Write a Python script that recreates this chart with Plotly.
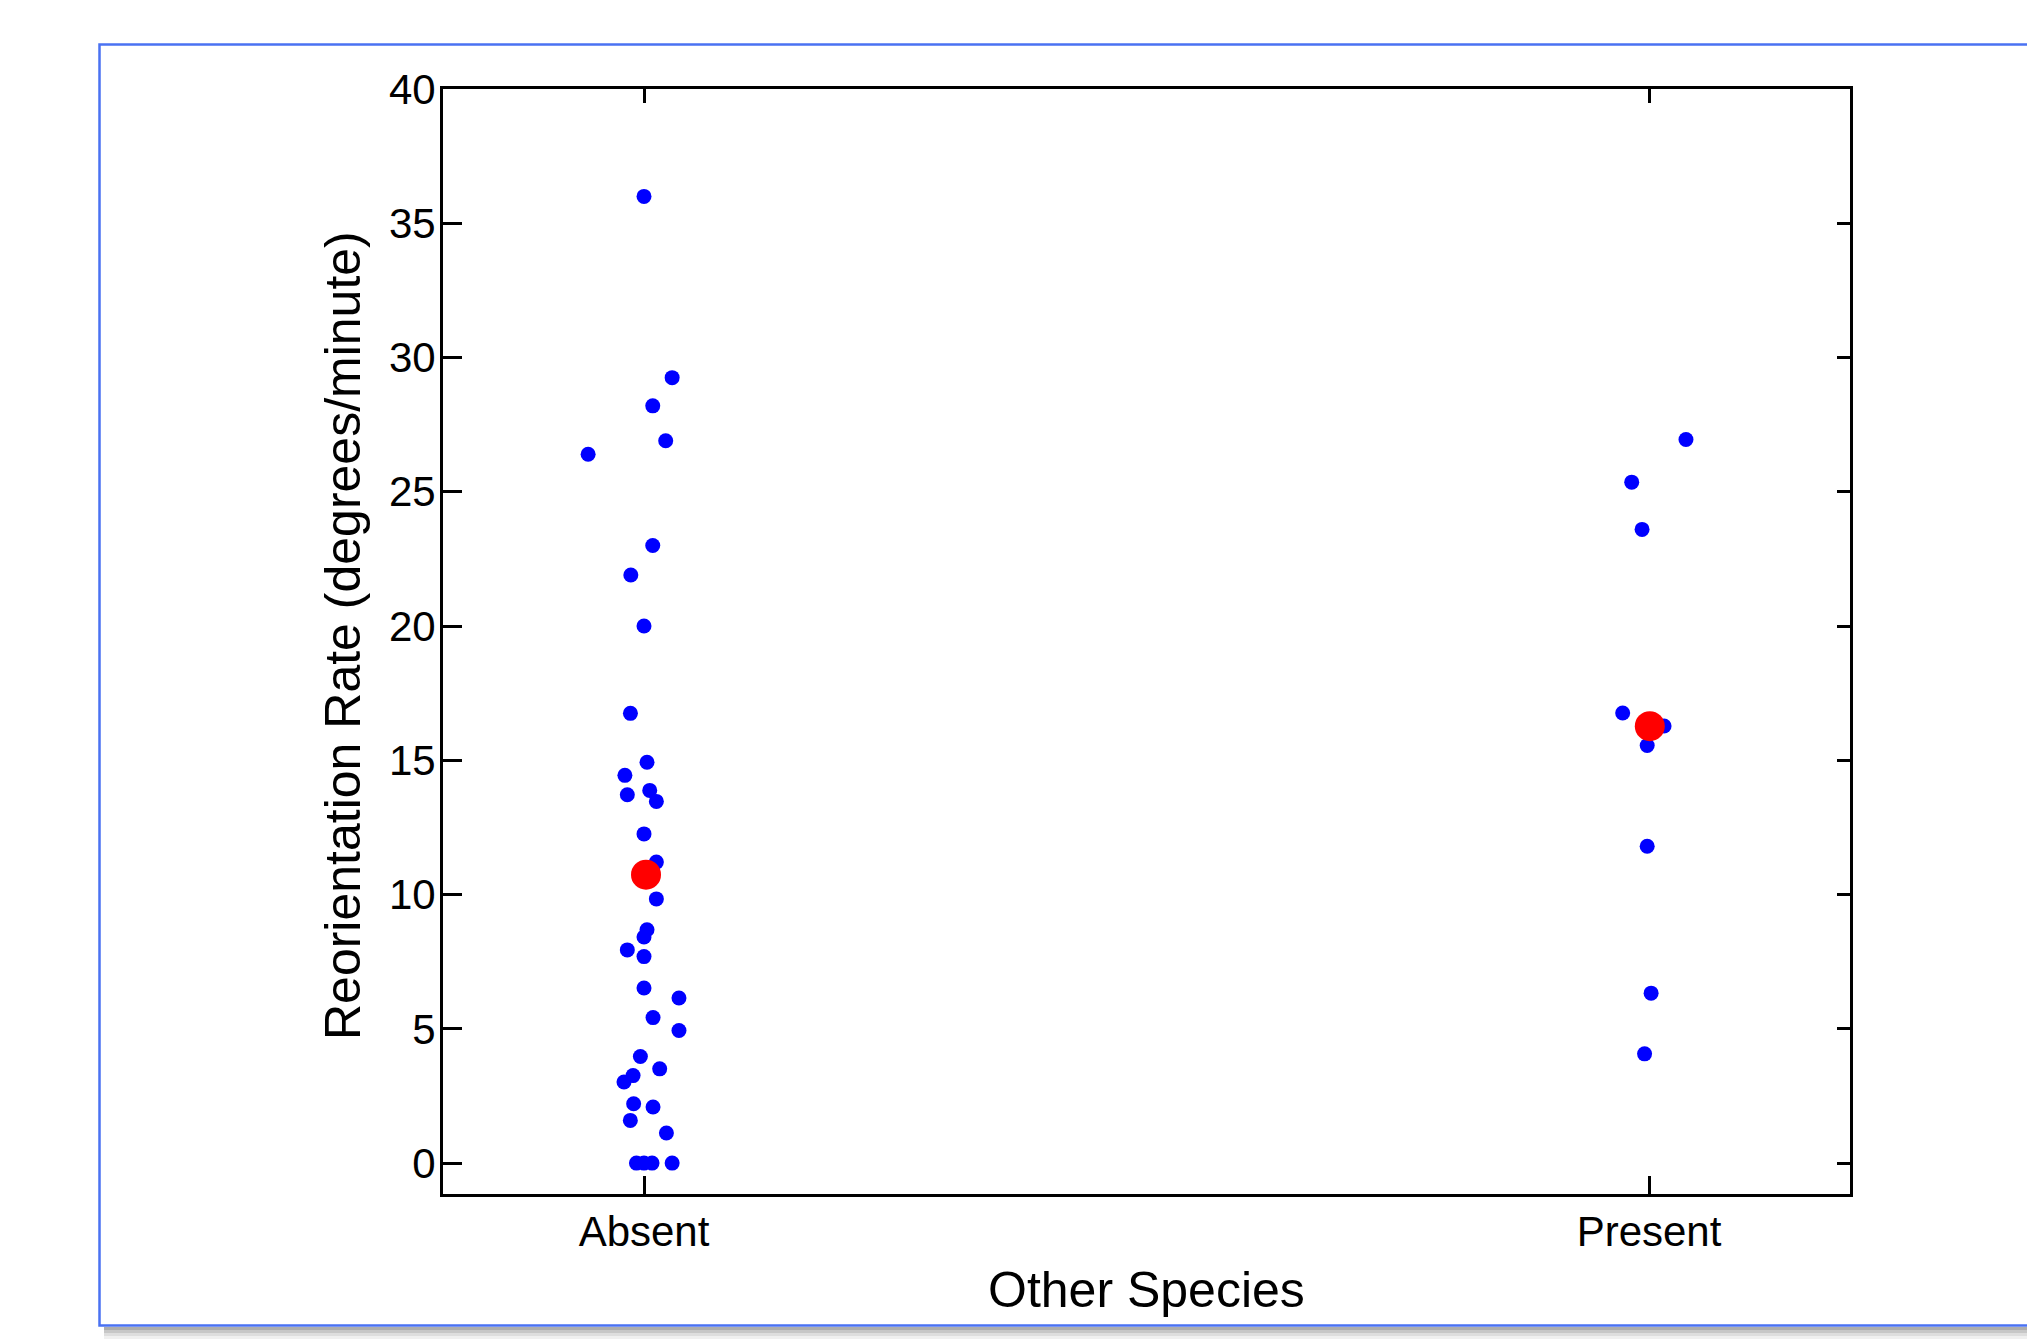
import plotly.graph_objects as go

# ---------------- data ----------------
categories = ["Absent", "Present"]

absent_values = [36.0, 29.25, 28.2, 26.9, 26.4, 23.0, 21.9, 20.0, 16.75, 14.93, 14.44,
                 13.72, 13.88, 13.47, 12.26, 11.21, 9.84, 8.69, 8.42, 7.94, 7.69, 6.52,
                 6.15, 5.42, 4.94, 3.97, 3.51, 3.26, 3.02, 2.21, 2.09, 1.59, 1.12,
                 0.0, 0.0, 0.0, 0.0]
absent_jitter = [0.0, 0.028, 0.0087, 0.0216, -0.0556, 0.0087, -0.0131, 0.0, -0.0135, 0.003,
                 -0.019, -0.0166, 0.0057, 0.0123, 0.0, 0.0123, 0.0123, 0.003, 0.0, -0.0166,
                 0.0, 0.0, 0.0348, 0.009, 0.0348, -0.0036, 0.0156, -0.0109, -0.0199, -0.0103,
                 0.009, -0.0136, 0.0223, -0.0075, 0.0, 0.008, 0.028]

present_values = [26.95, 25.36, 23.6, 16.76, 16.28, 15.55, 11.8, 6.33, 4.07]
present_jitter = [0.0368, -0.0172, -0.0069, -0.0262, 0.015, -0.0018, -0.0018, 0.0021, -0.0044]

mean_values = [10.74, 16.27]
mean_jitter = [0.002, 0.0008]

y_ticks = [0, 5, 10, 15, 20, 25, 30, 35, 40]

# ---------------- figure ----------------
W, H = 2027, 1341
L, R, T, B = 443, 1850, 89, 1194  # plot area in pixels


def px_x(x):
    return (x - L) / (R - L)


def px_y(y):
    return (B - y) / (B - T)


FONT = "Liberation Sans, Arial, sans-serif"

fig = go.Figure()

fig.add_trace(go.Scatter(
    x=[1 + j for j in absent_jitter], y=absent_values, mode="markers",
    marker=dict(color="#0000FF", size=15, line=dict(width=0)),
    showlegend=False, hoverinfo="skip"))
fig.add_trace(go.Scatter(
    x=[2 + j for j in present_jitter], y=present_values, mode="markers",
    marker=dict(color="#0000FF", size=15, line=dict(width=0)),
    showlegend=False, hoverinfo="skip"))
fig.add_trace(go.Scatter(
    x=[i + 1 + j for i, j in enumerate(mean_jitter)], y=mean_values, mode="markers",
    marker=dict(color="#FF0000", size=30, line=dict(width=0)),
    showlegend=False, hoverinfo="skip"))
# empty trace to bring up the mirrored (top/right) axes
fig.add_trace(go.Scatter(x=[], y=[], xaxis="x2", yaxis="y2", showlegend=False))

xr = [0.8, 2.2]
yr = [-1.15, 40]

common = dict(showgrid=False, zeroline=False, showline=True, linewidth=3,
              linecolor="black", ticks="inside", tickwidth=3, tickcolor="black")

fig.update_layout(
    width=W, height=H,
    margin=dict(l=L, r=W - R, t=T, b=H - B),
    paper_bgcolor="white", plot_bgcolor="white",
    font=dict(family=FONT, color="black"),
    xaxis=dict(range=xr, tickmode="array", tickvals=[1, 2], ticktext=categories,
               ticklen=18, tickfont=dict(size=42, family=FONT, color="black"),
               ticklabelstandoff=-1, **common),
    yaxis=dict(range=yr, tickmode="array", tickvals=y_ticks,
               ticktext=[str(v) for v in y_ticks],
               ticklen=19, tickfont=dict(size=42, family=FONT, color="black"),
               ticklabelstandoff=-4, **common),
    xaxis2=dict(range=xr, overlaying="x", side="top", tickmode="array", tickvals=[1, 2],
                ticklen=14, showticklabels=False, **common),
    yaxis2=dict(range=yr, overlaying="y", side="right", tickmode="array", tickvals=y_ticks,
                ticklen=13, showticklabels=False, **common),
)

# axis titles
fig.add_annotation(text="Other Species", xref="paper", yref="paper",
                   x=0.5, y=px_y(1290), xanchor="center", yanchor="middle",
                   showarrow=False, font=dict(size=50, family=FONT, color="black"))
fig.add_annotation(text="Reorientation Rate (degrees/minute)", xref="paper", yref="paper",
                   x=px_x(343), y=px_y(636), xanchor="center", yanchor="middle",
                   textangle=-90, showarrow=False,
                   font=dict(size=50, family=FONT, color="black"))

# outer frame with drop shadow
shadow = [(1327, 1330, 0.32), (1330, 1333, 0.22), (1333, 1336, 0.13), (1336, 1339, 0.06)]
for y0, y1, a in shadow:
    fig.add_shape(type="rect", xref="paper", yref="paper",
                  x0=px_x(104), x1=px_x(2040), y0=px_y(y1), y1=px_y(y0),
                  line=dict(width=0), fillcolor=f"rgba(0,0,0,{a})", layer="below")
fig.add_shape(type="rect", xref="paper", yref="paper",
              x0=px_x(99.5), x1=px_x(2040), y0=px_y(1325.5), y1=px_y(44.5),
              line=dict(color="#4a72f2", width=2.5), fillcolor="rgba(0,0,0,0)",
              layer="below")

fig.write_html("out.html",
               config={"displayModeBar": False},
               post_script="document.body.style.margin='0';document.body.style.overflow='hidden';")
